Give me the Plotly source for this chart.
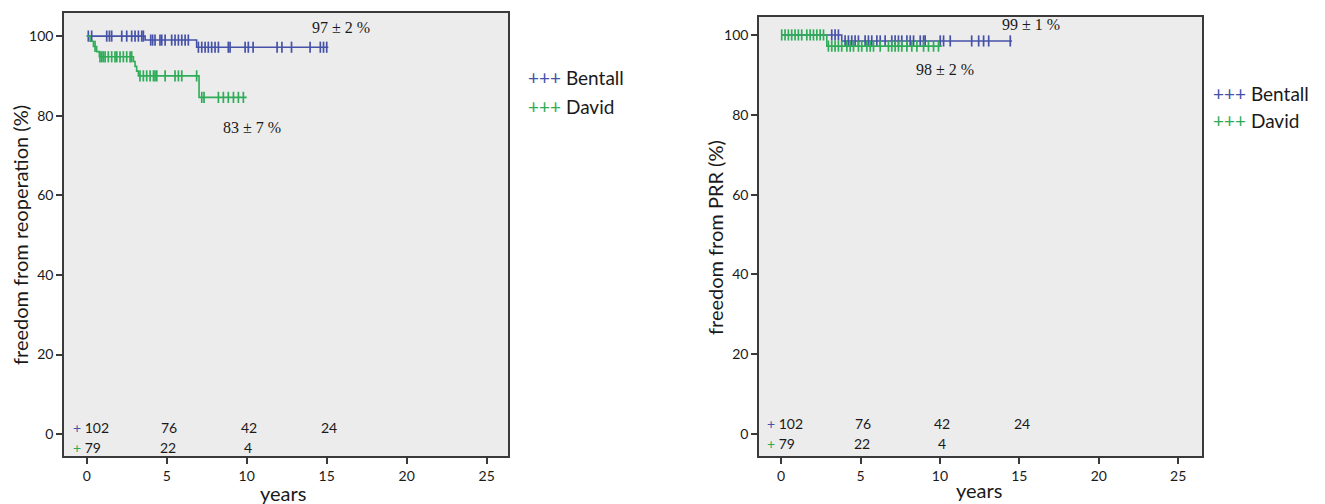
import plotly.graph_objects as go

# ---------------- data ----------------
# Left panel: freedom from reoperation
reop_bentall_t = [0, 3.65, 6.87, 15.1]
reop_bentall_s = [100, 99.0, 97.2, 97.2]
reop_bentall_cens = [0.10, 0.31, 1.25, 1.42, 1.56, 2.19, 2.5, 2.81, 3.02, 3.23, 3.44, 3.54,
                     4.0, 4.12, 4.27, 4.58, 4.69, 4.9, 5.31, 5.52, 5.73, 5.94, 6.15, 6.35,
                     6.98, 7.19, 7.4, 7.6, 7.81, 8.02, 8.23, 8.85, 8.96, 9.9, 10.1, 10.4,
                     11.9, 12.2, 12.8, 13.96, 14.6, 14.8, 15.0]

reop_david_t = [0, 0.21, 0.42, 0.62, 0.79, 2.92, 3.02, 3.12, 3.23, 7.02, 10.0]
reop_david_s = [100, 98.7, 97.4, 96.1, 94.8, 93.6, 92.4, 91.2, 90.0, 84.6, 84.6]
reop_david_cens = [0.52, 0.83, 0.94, 1.04, 1.15, 1.35, 1.56, 1.77, 1.88, 2.08, 2.29, 2.5, 2.71, 2.81,
                   3.33, 3.54, 3.75, 3.96, 4.17, 4.27, 4.38, 4.9, 5.52, 5.73, 5.94, 6.87,
                   7.19, 7.33, 8.23, 8.54, 8.85, 9.17, 9.48, 9.79]

# Right panel: freedom from PRR
prr_bentall_t = [0, 3.82, 14.54]
prr_bentall_s = [100, 98.5, 98.5]
prr_bentall_cens = [3.19, 3.40, 3.61,
                    4.03, 4.24, 4.45, 4.66, 4.87, 5.29, 5.50, 5.71, 6.03, 6.24, 6.55, 6.97,
                    7.18, 7.39, 7.60, 7.92, 8.13, 8.34, 8.76, 8.97, 9.07, 10.02, 10.23, 10.65,
                    12.0, 12.44, 12.75, 13.07, 14.43]

prr_david_t = [0, 2.88, 10.12]
prr_david_s = [100, 97.2, 97.2]
prr_david_cens = [0.04, 0.25, 0.46, 0.67, 0.88, 1.09, 1.30, 1.62, 1.83, 2.04, 2.25, 2.46, 2.67,
                  2.98, 3.19, 3.40, 3.61, 3.82, 4.14, 4.35, 4.56, 4.87, 5.08, 5.40, 5.61, 5.82,
                  6.24, 6.76, 6.97, 7.18, 7.39, 7.60, 7.92, 8.23, 8.55, 8.97, 9.28, 9.60, 9.91]

# Numbers at risk
risk_times = [0, 5, 10, 15]
risk_bentall = [102, 76, 42, 24]
risk_david = [79, 22, 4]

# Survival estimates text
reop_labels = ["97 ± 2 %", "83 ± 7 %"]
prr_labels = ["99 ± 1 %", "98 ± 2 %"]

x_ticks = [0, 5, 10, 15, 20, 25]
y_ticks = [0, 20, 40, 60, 80, 100]

# ---------------- styles ----------------
BLUE = "#4552a8"
GREEN = "#2fac57"
BG = "#ececec"
TXT = "#1a1a1a"
SANS = "Lato, 'Open Sans', sans-serif"
SERIF = "'Liberation Serif', 'DejaVu Serif', serif"

# the page body has an 8px margin; the figure fills the rest of the window
OFF = 8
W, H = 1325 - OFF, 504 - OFF


def px(x):
    return (x - OFF) / W


def py(y):
    return 1 - (y - OFF) / H


def surv_at(times, surv, t):
    val = surv[0]
    for ti, si in zip(times, surv):
        if ti <= t:
            val = si
    return val


fig = go.Figure()


def add_curve(t, s, cens, color, xa, ya, name):
    fig.add_trace(go.Scatter(
        x=t, y=s, mode="lines", line=dict(color=color, width=1.6, shape="hv"),
        xaxis=xa, yaxis=ya, showlegend=False, name=name, hoverinfo="skip"))
    fig.add_trace(go.Scatter(
        x=cens, y=[surv_at(t, s, c) for c in cens], mode="markers",
        marker=dict(symbol="line-ns-open", size=8, color=color, line=dict(color=color, width=1.7)),
        xaxis=xa, yaxis=ya, showlegend=False, name=name + " censored", hoverinfo="skip"))


add_curve(reop_bentall_t, reop_bentall_s, reop_bentall_cens, BLUE, "x", "y", "Bentall")
add_curve(reop_david_t, reop_david_s, reop_david_cens, GREEN, "x", "y", "David")
add_curve(prr_bentall_t, prr_bentall_s, prr_bentall_cens, BLUE, "x2", "y2", "Bentall")
add_curve(prr_david_t, prr_david_s, prr_david_cens, GREEN, "x2", "y2", "David")

axis_common = dict(
    showgrid=False, zeroline=False, showline=True, linecolor="#3a3a3a", linewidth=1.5,
    mirror=True, ticks="outside", ticklen=6, tickwidth=1.5, tickcolor="#3a3a3a",
    tickfont=dict(family=SANS, size=14, color=TXT),
)

fig.update_layout(
    width=W, height=H,
    margin=dict(l=0, r=0, t=0, b=0),
    paper_bgcolor="white", plot_bgcolor=BG,
    showlegend=False,
    xaxis=dict(domain=[px(64), px(508)], range=[-1.42, 26.33], tickvals=x_ticks, anchor="y", **axis_common),
    yaxis=dict(domain=[py(456), py(13)], range=[-5.5, 105.8], tickvals=y_ticks, anchor="x", **axis_common),
    xaxis2=dict(domain=[px(759), px(1202)], range=[-1.39, 26.5], tickvals=x_ticks, anchor="y2", **axis_common),
    yaxis2=dict(domain=[py(456), py(17)], range=[-5.5, 104.5], tickvals=y_ticks, anchor="x2", **axis_common),
)

ann = []
txt_font = dict(family=SANS, size=14, color=TXT)

# numbers at risk
for (xa, ya, y1, y2) in [("x", "y", 1.7, -3.4), ("x2", "y2", 2.7, -2.3)]:
    for i, (t, n) in enumerate(zip(risk_times, risk_bentall)):
        if i == 0:
            ann.append(dict(x=-1.0, y=y1, xref=xa, yref=ya, xanchor="left", yanchor="middle",
                            showarrow=False, font=txt_font,
                            text=f"<span style='color:{BLUE}'>+</span> {n}"))
        else:
            ann.append(dict(x=t + 0.15, y=y1, xref=xa, yref=ya, xanchor="center", yanchor="middle",
                            showarrow=False, text=str(n), font=txt_font))
    for i, (t, n) in enumerate(zip(risk_times, risk_david)):
        if i == 0:
            ann.append(dict(x=-1.0, y=y2, xref=xa, yref=ya, xanchor="left", yanchor="middle",
                            showarrow=False, font=txt_font,
                            text=f"<span style='color:{GREEN}'>+</span> {n}"))
        else:
            ann.append(dict(x=t + 0.1, y=y2, xref=xa, yref=ya, xanchor="center", yanchor="middle",
                            showarrow=False, text=str(n), font=txt_font))

# survival estimate labels
serif_font = dict(family=SERIF, size=16, color=TXT)
for (x, y, xa, ya, txt) in [(15.87, 102.1, "x", "y", reop_labels[0]),
                            (10.3, 77.0, "x", "y", reop_labels[1]),
                            (15.73, 102.6, "x2", "y2", prr_labels[0]),
                            (10.35, 91.3, "x2", "y2", prr_labels[1])]:
    ann.append(dict(x=x, y=y, xref=xa, yref=ya, xanchor="center", yanchor="middle",
                    showarrow=False, text=txt, font=serif_font))

# axis titles
title_font = dict(family=SANS, size=20, color=TXT)
for (x, y, ang, txt) in [(20, 235, -90, "freedom from reoperation (%)"),
                         (715, 238, -90, "freedom from PRR (%)"),
                         (283, 493, 0, "years"),
                         (979, 490, 0, "years")]:
    ann.append(dict(x=px(x), y=py(y), xref="paper", yref="paper", xanchor="center", yanchor="middle",
                    showarrow=False, textangle=ang, text=txt, font=title_font))

# legends
leg_font = dict(family=SANS, size=19, color=TXT)
for (lx, ly1, ly2) in [(526, 77.5, 106.7), (1211, 94, 120)]:
    ann.append(dict(x=px(lx), y=py(ly1), xref="paper", yref="paper", xanchor="left", yanchor="middle",
                    showarrow=False, font=leg_font,
                    text=f"<span style='color:{BLUE}'>+++</span> Bentall"))
    ann.append(dict(x=px(lx), y=py(ly2), xref="paper", yref="paper", xanchor="left", yanchor="middle",
                    showarrow=False, font=leg_font,
                    text=f"<span style='color:{GREEN}'>+++</span> David"))

fig.update_layout(annotations=ann)
fig.write_html("out.html")
